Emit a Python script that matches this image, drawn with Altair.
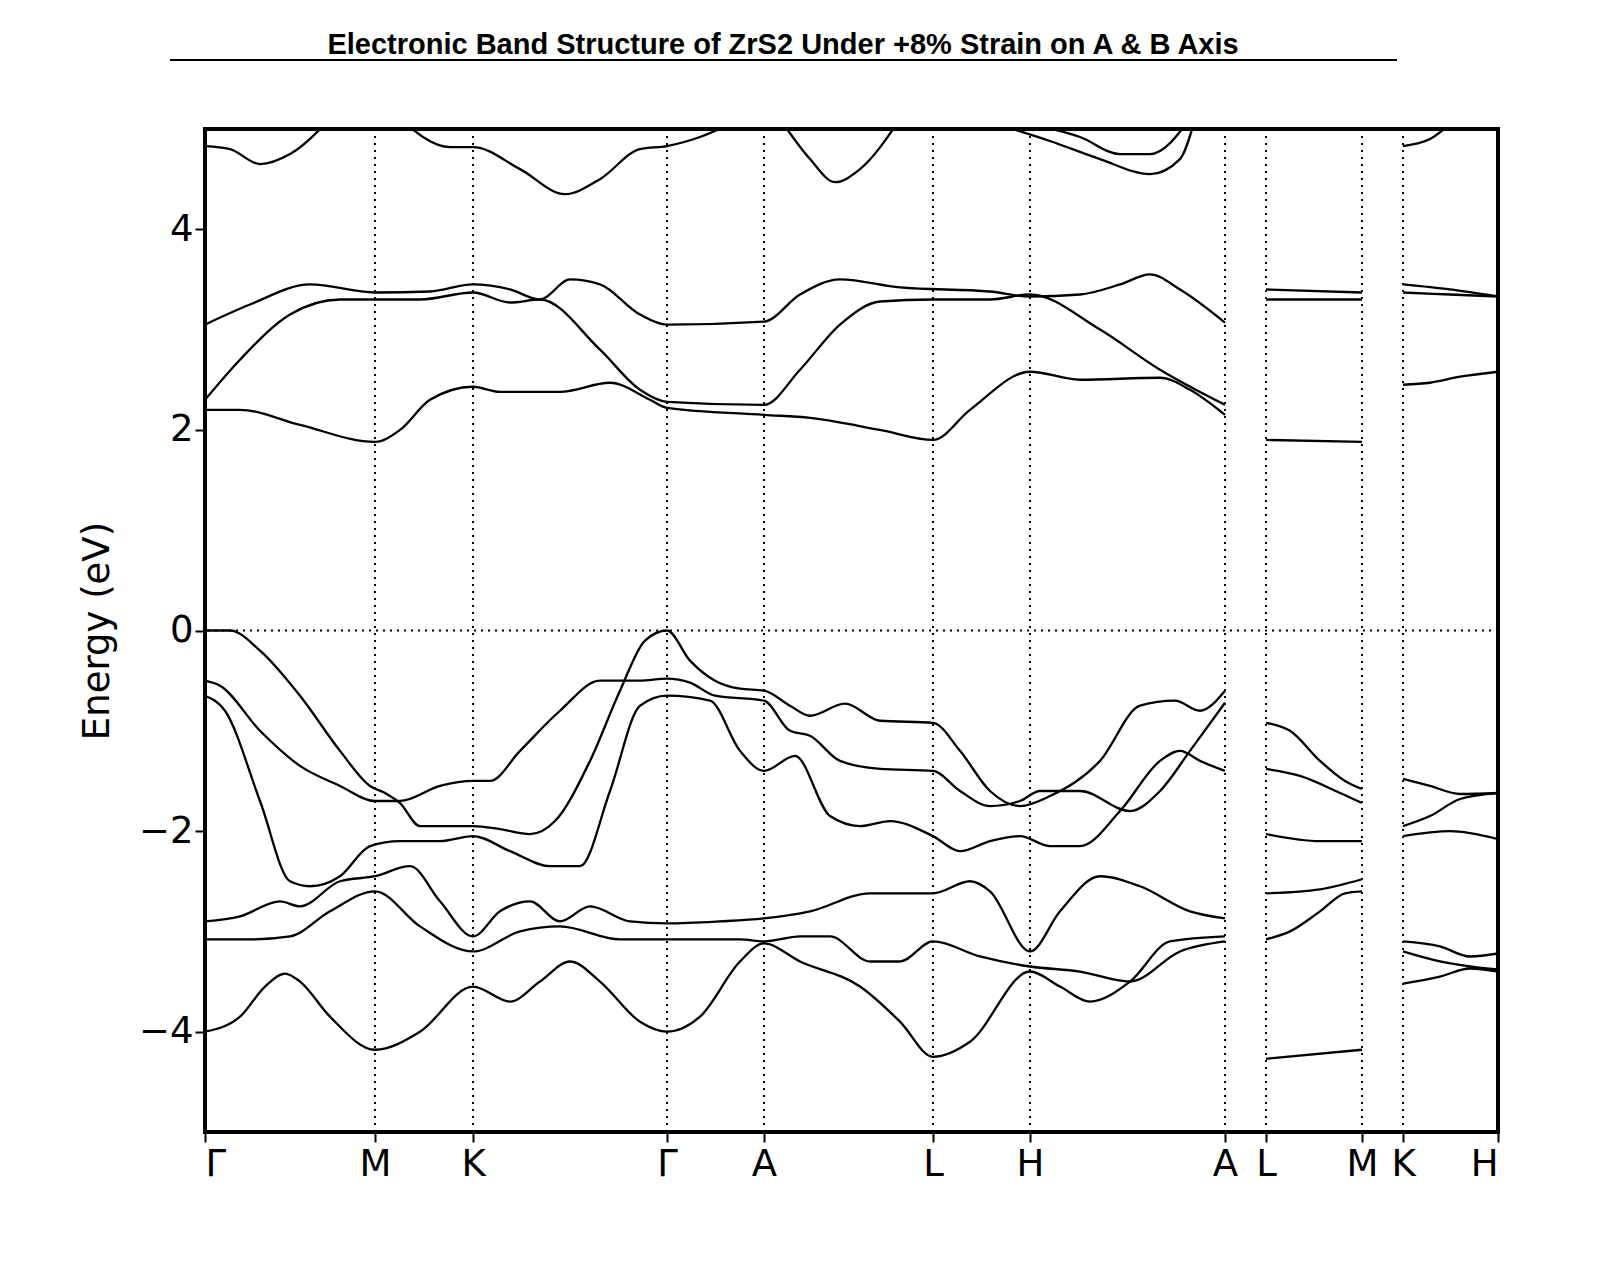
import altair as alt
import pandas as pd

# high-symmetry points along the path (path coordinate)
tick_pos = [205, 375, 473, 667, 764, 933, 1030, 1225, 1266, 1362, 1403, 1498]
tick_lab = ["Γ", "M", "K", "Γ", "A", "L", "H", "A", "L", "M", "K", "H"]

title_text = "Electronic Band Structure of ZrS2 Under +8% Strain on A & B Axis"

# bands: name -> (k, energy in eV)
bands = {
    "v1": ([205, 230, 260, 300, 340, 370, 385, 400, 420, 450, 473, 500, 530, 555, 590, 620, 645, 667, 690, 715, 740, 764, 790, 810, 845, 880, 933, 960, 990, 1020, 1050, 1100, 1140, 1175, 1200, 1225],
           [0, 0, -0.2, -0.65, -1.2, -1.55, -1.62, -1.72, -1.95, -1.95, -1.95, -1.98, -2.03, -1.9, -1.3, -0.6, -0.1, 0, -0.3, -0.5, -0.58, -0.6, -0.75, -0.85, -0.73, -0.9, -0.92, -1.2, -1.6, -1.75, -1.65, -1.3, -0.75, -0.7, -0.8, -0.6]),
    "v2": ([205, 220, 260, 300, 340, 375, 400, 440, 473, 490, 520, 560, 600, 640, 667, 690, 715, 764, 790, 810, 840, 880, 933, 960, 990, 1020, 1040, 1080, 1130, 1160, 1190, 1225],
           [-0.5, -0.55, -1.0, -1.35, -1.55, -1.7, -1.7, -1.55, -1.5, -1.5, -1.2, -0.8, -0.5, -0.5, -0.48, -0.52, -0.65, -0.7, -1.0, -1.05, -1.3, -1.38, -1.4, -1.6, -1.75, -1.7, -1.6, -1.6, -1.8, -1.6, -1.2, -0.72]),
    "v3": ([205, 225, 260, 290, 310, 340, 370, 400, 440, 473, 510, 550, 580, 610, 640, 667, 710, 740, 764, 795, 830, 860, 890, 933, 960, 990, 1020, 1050, 1080, 1120, 1160, 1180, 1200, 1225],
           [-0.65, -0.8, -1.7, -2.5, -2.55, -2.45, -2.15, -2.1, -2.1, -2.05, -2.2, -2.35, -2.35, -1.6, -0.75, -0.65, -0.7, -1.2, -1.4, -1.25, -1.85, -1.95, -1.9, -2.05, -2.2, -2.1, -2.05, -2.15, -2.15, -1.8, -1.3, -1.2, -1.3, -1.4]),
    "v4": ([205, 240, 280, 300, 340, 375, 410, 440, 473, 500, 530, 560, 590, 630, 667, 720, 764, 810, 870, 933, 970, 990, 1030, 1060, 1100, 1140, 1190, 1225],
           [-2.9, -2.85, -2.7, -2.75, -2.5, -2.45, -2.35, -2.7, -3.05, -2.8, -2.7, -2.9, -2.75, -2.9, -2.92, -2.9, -2.87, -2.8, -2.62, -2.62, -2.5, -2.6, -3.2, -2.8, -2.45, -2.55, -2.8, -2.87]),
    "v5": ([205, 250, 290, 330, 375, 420, 473, 520, 560, 620, 667, 740, 764, 800, 830, 870, 900, 933, 980, 1030, 1080, 1130, 1180, 1225],
           [-3.08, -3.08, -3.05, -2.8, -2.6, -2.95, -3.2, -3.0, -2.95, -3.08, -3.08, -3.08, -3.1, -3.05, -3.05, -3.3, -3.3, -3.1, -3.25, -3.35, -3.4, -3.5, -3.2, -3.1]),
    "v6": ([205, 240, 265, 285, 300, 330, 375, 420, 473, 510, 540, 570, 600, 640, 667, 700, 740, 764, 800, 860, 900, 933, 970, 1030, 1060, 1090, 1130, 1170, 1225],
           [-4.0, -3.85, -3.55, -3.42, -3.5, -3.85, -4.18, -4.0, -3.55, -3.7, -3.5, -3.3, -3.5, -3.9, -4.0, -3.85, -3.3, -3.12, -3.3, -3.55, -3.9, -4.25, -4.1, -3.4, -3.55, -3.7, -3.5, -3.1, -3.05]),
    "c1": ([205, 240, 300, 375, 400, 430, 473, 500, 560, 610, 650, 667, 764, 810, 880, 933, 970, 1030, 1080, 1160, 1190, 1225],
           [2.2, 2.2, 2.05, 1.88, 2.0, 2.3, 2.43, 2.38, 2.38, 2.47, 2.3, 2.22, 2.15, 2.12, 2.0, 1.9, 2.2, 2.58, 2.5, 2.52, 2.4, 2.15]),
    "c2": ([205, 240, 290, 340, 375, 420, 473, 510, 540, 600, 640, 667, 764, 800, 840, 880, 933, 990, 1030, 1100, 1160, 1225],
           [2.3, 2.7, 3.15, 3.3, 3.3, 3.3, 3.37, 3.27, 3.3, 2.8, 2.4, 2.28, 2.25, 2.6, 3.05, 3.28, 3.3, 3.3, 3.35, 3.0, 2.6, 2.25]),
    "c3": ([205, 250, 310, 375, 430, 473, 510, 540, 570, 600, 640, 667, 764, 800, 840, 900, 990, 1030, 1080, 1120, 1150, 1180, 1225],
           [3.05, 3.25, 3.45, 3.37, 3.38, 3.45, 3.4, 3.3, 3.5, 3.45, 3.15, 3.05, 3.08, 3.35, 3.5, 3.42, 3.38, 3.33, 3.35, 3.45, 3.55, 3.4, 3.07]),
    "c4": ([205, 230, 260, 290, 330],
           [4.83, 4.8, 4.65, 4.75, 5.1]),
    "c5": ([400, 450, 473, 520, 565, 600, 640, 667, 700, 740],
           [5.1, 4.82, 4.82, 4.6, 4.35, 4.5, 4.8, 4.83, 4.92, 5.1]),
    "c6": ([780, 810, 835, 860, 900],
           [5.1, 4.7, 4.47, 4.6, 5.1]),
    "c7": ([980, 1050, 1100, 1150, 1180, 1195],
           [5.1, 4.88, 4.7, 4.55, 4.7, 5.1]),
    "c8": ([1030, 1080, 1120, 1150, 1190],
           [5.05, 4.92, 4.75, 4.75, 5.1]),
    # L - M segment
    "lm1": ([1266, 1362], [3.4, 3.37]),
    "lm2": ([1266, 1362], [3.3, 3.3]),
    "lm3": ([1266, 1362], [1.9, 1.88]),
    "lm4": ([1266, 1290, 1320, 1345, 1362], [-0.92, -1.0, -1.3, -1.5, -1.58]),
    "lm5": ([1266, 1300, 1340, 1362], [-1.38, -1.45, -1.62, -1.72]),
    "lm6": ([1266, 1320, 1362], [-2.03, -2.1, -2.1]),
    "lm7": ([1266, 1320, 1362], [-2.62, -2.58, -2.48]),
    "lm8": ([1266, 1290, 1320, 1345, 1362], [-3.08, -3.0, -2.8, -2.62, -2.6]),
    "lm9": ([1266, 1362], [-4.27, -4.18]),
    # K - H segment
    "kh1": ([1403, 1430, 1450], [4.83, 4.9, 5.05]),
    "kh2": ([1403, 1450, 1498], [3.45, 3.4, 3.33]),
    "kh3": ([1403, 1450, 1498], [3.37, 3.35, 3.33]),
    "kh4": ([1403, 1430, 1460, 1498], [2.45, 2.47, 2.53, 2.58]),
    "kh5": ([1403, 1430, 1460, 1498], [-1.48, -1.55, -1.63, -1.62]),
    "kh6": ([1403, 1430, 1460, 1498], [-1.95, -1.85, -1.68, -1.62]),
    "kh7": ([1403, 1450, 1498], [-2.05, -2.0, -2.08]),
    "kh8": ([1403, 1440, 1470, 1498], [-3.1, -3.15, -3.25, -3.22]),
    "kh9": ([1403, 1440, 1470, 1498], [-3.2, -3.3, -3.35, -3.38]),
    "kh10": ([1403, 1440, 1470, 1498], [-3.52, -3.45, -3.37, -3.4]),
}

rows = []
for name, (ks, es) in bands.items():
    for i, (k, e) in enumerate(zip(ks, es)):
        rows.append({"band": name, "k": k, "E": e, "i": i})
df = pd.DataFrame(rows)

label_map = "{" + ",".join(f"'{p}':'{l}'" for p, l in zip(tick_pos, tick_lab)) + "}"
xscale = alt.Scale(domain=[205, 1498], nice=False, zero=False)
yscale = alt.Scale(domain=[-5, 5], nice=False)

lines = alt.Chart(df).mark_line(color="black", strokeWidth=2.3, interpolate="monotone", clip=True).encode(
    x=alt.X("k:Q", scale=xscale, axis=alt.Axis(
        values=tick_pos, labelExpr=f"{label_map}[datum.value]", title=None, grid=False,
        labelFontSize=37, labelFont="DejaVu Sans", labelColor="black", tickColor="black",
        tickSize=10, tickWidth=2, labelPadding=4, domain=False)),
    y=alt.Y("E:Q", scale=yscale, axis=alt.Axis(
        values=[-4, -2, 0, 2, 4], format="d", title="Energy (eV)", titleFontSize=37,
        titleFont="DejaVu Sans", titleFontWeight="normal", titleColor="black",
        labelFontSize=37, labelFont="DejaVu Sans", labelColor="black", tickColor="black",
        tickSize=10, tickWidth=2, grid=False, domain=False, titlePadding=22)),
    detail="band:N",
    order="i:Q",
)

vlines = alt.Chart(pd.DataFrame({"k": tick_pos[1:-1]})).mark_rule(
    color="black", strokeDash=[2, 5], strokeWidth=2).encode(x=alt.X("k:Q", scale=xscale))
zero = alt.Chart(pd.DataFrame({"E": [0]})).mark_rule(
    color="black", strokeDash=[2, 5], strokeWidth=2).encode(y=alt.Y("E:Q", scale=yscale))

title = alt.Chart(pd.DataFrame({"t": [title_text]})).mark_text(
    font="Liberation Sans", fontSize=29, fontWeight="bold", color="black", align="center",
    baseline="alphabetic").encode(text="t:N", x=alt.value(578), y=alt.value(-75))
underline = alt.Chart(pd.DataFrame({"a": [0]})).mark_rule(color="black", strokeWidth=2).encode(
    x=alt.value(-35), x2=alt.value(1192), y=alt.value(-69))

chart = alt.layer(vlines, zero, lines, title, underline).properties(
    width=1293, height=1003,
    padding={"left": 197, "top": 121, "right": 40, "bottom": 80},
    autosize=alt.AutoSizeParams(type="none"),
).configure_view(stroke="black", strokeWidth=4)

chart.save("out.html", embed_options={"renderer": "svg", "actions": False})
